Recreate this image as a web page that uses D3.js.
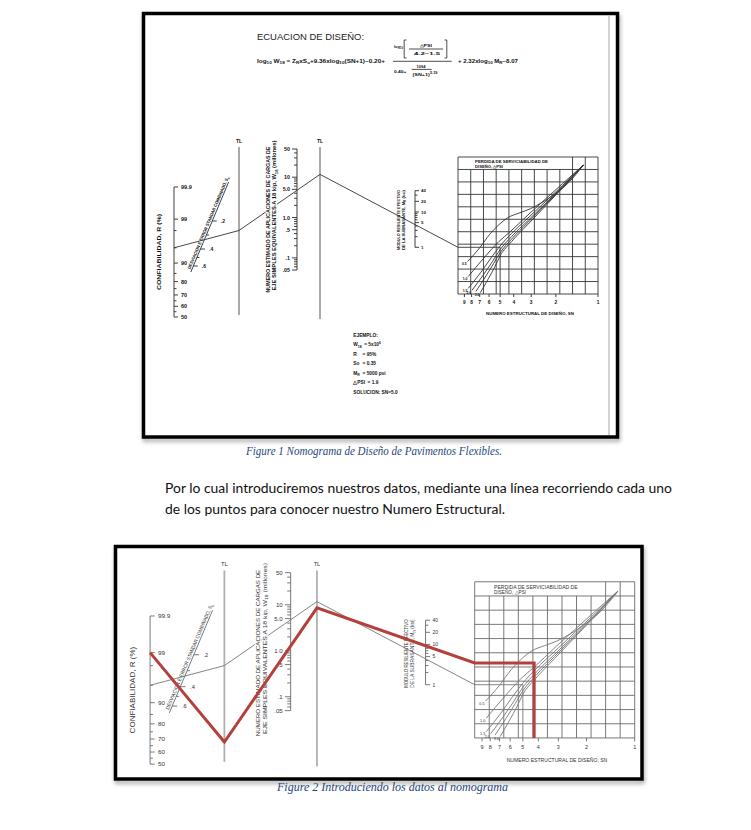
<!DOCTYPE html>
<html lang="es">
<head>
<meta charset="utf-8">
<title>Nomograma de diseño de pavimentos flexibles</title>
<script src="https://cdn.jsdelivr.net/npm/d3@7/dist/d3.min.js"></script>
<style>
  body { margin: 0; background: #fff; }
  svg { display: block; }
</style>
</head>
<body>
<div id="page"></div>
<script>
const confiabilidadTicks = [99.9, 99, 90, 80, 70, 60, 50];
const confiabilidadMenores = [98, 95, 85, 75, 65, 55];
const soTicks = [0.2, 0.4, 0.6];
const soMenores = [0.3, 0.5];
const w18Ticks = [50, 10, 5, 1, 0.5, 0.1, 0.05];
const w18Etiquetas = ['50', '10', '5.0', '1.0', '.5', '.1', '.05'];
const mrTicks = [40, 20, 10, 5, 1];
const snTicks = [9, 8, 7, 6, 5, 4, 3, 2, 1];

// curvas de perdida de serviciabilidad, en unidades de cuadricula [columna, fila]
const curvaPsi05 = [[0.75, 2.6], [1.7, 3.7], [2.5, 4.8], [3.2, 5.55], [3.9, 6.12], [4.8, 6.5], [5.7, 6.85], [6.6, 7.35], [7.5, 7.95], [8.7, 8.95], [9.85, 10.35]];
const curvaPsi10 = [[0.8, 1.4], [2.0, 2.85], [3.2, 4.2], [4.1, 5.0], [5.5, 6.35], [6.9, 7.65], [8.2, 8.85], [9.85, 10.35]];
const curvaPsi15 = [[0.8, 0.45], [1.8, 1.75], [2.6, 2.9], [3.3, 3.85], [4.2, 4.85], [5.5, 6.1], [6.9, 7.45], [8.2, 8.7], [9.85, 10.35]];
const curvaPsi20 = [[1.1, 0.3], [2.0, 1.55], [2.7, 2.6], [3.3, 3.55], [4.2, 4.6], [5.5, 5.9], [6.9, 7.3], [8.2, 8.6], [9.85, 10.35]];
const curvaPsi25 = [[1.4, 0.2], [2.2, 1.45], [2.8, 2.45], [3.3, 3.3], [4.2, 4.4], [5.5, 5.75], [6.9, 7.2], [8.2, 8.55], [9.85, 10.35]];
const curvaPsi30 = [[1.75, 0.1], [2.4, 1.25], [2.9, 2.2], [3.3, 3.05], [4.2, 4.2], [5.5, 5.6], [6.9, 7.1], [8.2, 8.5], [9.85, 10.35]];
const curvasPsi = [
  { etiqueta: '0.5', puntos: curvaPsi05 },
  { etiqueta: '1.0', puntos: curvaPsi10 },
  { etiqueta: '1.5', puntos: curvaPsi15 },
  { etiqueta: '2.0', puntos: curvaPsi20 },
  { etiqueta: null, puntos: curvaPsi25 },
  { etiqueta: '3.0', puntos: curvaPsi30 }
];

// recorridos: R (%), lineas de giro TL (% de su altura), fila de entrada, SN
const ejemploR = 95, ejemploTL = [50.3, 83.7], ejemploFila = 3.75, ejemploSN = 5.0;
const nuestroR = 99, nuestroTL = [10.4, 80.4], nuestroFila = 5.28, nuestroSN = 4.25;

const ejemploTexto = [['EJEMPLO:', ''], ['W18', '= 5x10^6'], ['R', '= 95%'], ['So', '= 0.35'], ['MR', '= 5000 psi'], ['\u25B3PSI', '= 1.9'], ['SOLUCION: SN=5.0', '']];

// ---- escalas del nomograma (marco base = figura 1) ----
function probit(p) {
  const a = [-39.69683028665376, 220.9460984245205, -275.9285104469687, 138.3577518672690, -30.66479806614716, 2.506628277459239];
  const b = [-54.47609879822406, 161.5858368580409, -155.6989798598866, 66.80131188771972, -13.28068155288572];
  const c = [-0.007784894002430293, -0.3223964580411365, -2.400758277161838, -2.549732539343734, 4.374664141464968, 2.938163982698783];
  const d = [0.007784695709041462, 0.3224671290700398, 2.445134137142996, 3.754408661907416];
  const pl = 0.02425;
  let q, r;
  if (p < pl) {
    q = Math.sqrt(-2 * Math.log(p));
    return (((((c[0] * q + c[1]) * q + c[2]) * q + c[3]) * q + c[4]) * q + c[5]) / ((((d[0] * q + d[1]) * q + d[2]) * q + d[3]) * q + 1);
  }
  if (p > 1 - pl) {
    q = Math.sqrt(-2 * Math.log(1 - p));
    return -(((((c[0] * q + c[1]) * q + c[2]) * q + c[3]) * q + c[4]) * q + c[5]) / ((((d[0] * q + d[1]) * q + d[2]) * q + d[3]) * q + 1);
  }
  q = p - 0.5; r = q * q;
  return (((((a[0] * r + a[1]) * r + a[2]) * r + a[3]) * r + a[4]) * r + a[5]) * q / (((((b[0] * r + b[1]) * r + b[2]) * r + b[3]) * r + b[4]) * r + 1);
}

const X_R = 174, X_TL1 = 239, X_W18 = 297, X_TL2 = 320, X_MR = 415;
const zScale = d3.scaleLinear().domain([0, 3.09]).range([317, 187]);
const yConf = p => zScale(probit(p / 100));
const ySo = d3.scaleLinear().domain([0.2, 0.4, 0.6]).range([221, 249, 266]);
const soX = y => 211 + (224 - y) * 0.42;
const yW18 = d3.scaleLog().domain([0.05, 50]).range([270, 149]);
const yMR = d3.scaleLog().domain([1, 40]).range([247.3, 190.7]);
const yTL = d3.scaleLinear().domain([0, 100]).range([315, 147]);
const gx = d3.scaleLinear().domain([0, 11]).range([458, 598]);
const gy = d3.scaleLinear().domain([0, 11]).range([294, 157]);
const xSN = d3.scaleLog().domain([10, 1]).range([458, 598]);

const svg = d3.select('#page').append('svg')
  .attr('width', 751).attr('height', 830)
  .style('font-family', "'Liberation Sans', Arial, sans-serif");

const defs = svg.append('defs');
defs.append('filter').attr('id', 'sombra')
  .attr('x', '-5%').attr('y', '-5%').attr('width', '110%').attr('height', '115%')
  .append('feGaussianBlur').attr('stdDeviation', 2);

function texto(g, segs, o) {
  const t = g.append('text')
    .attr('font-size', o.fs)
    .attr('fill', o.fill || '#222')
    .attr('text-anchor', o.anchor || 'start');
  if (o.rot) t.attr('transform', `translate(${o.x},${o.y}) rotate(${o.rot})`);
  else t.attr('x', o.x).attr('y', o.y);
  if (o.len) t.attr('textLength', o.len).attr('lengthAdjust', 'spacingAndGlyphs');
  if (o.weight) t.attr('font-weight', o.weight);
  if (o.italic) t.attr('font-style', 'italic');
  if (o.family) t.style('font-family', o.family);
  if (o.halo) t.attr('stroke', '#fff').attr('stroke-width', o.halo).attr('paint-order', 'stroke');
  let nivel = 0;
  [].concat(segs).forEach(s => {
    const [str, tipo] = Array.isArray(s) ? s : [s, null];
    const objetivo = tipo === 'sub' ? 0.3 * o.fs : tipo === 'sup' ? -0.45 * o.fs : 0;
    const ts = t.append('tspan').text(str);
    if (objetivo !== nivel) ts.attr('dy', objetivo - nivel);
    if (tipo) ts.attr('font-size', o.fs * 0.72);
    nivel = objetivo;
  });
  return t;
}

function marco(x, y, w, h) {
  svg.append('rect').attr('x', x + 1).attr('y', y + 3).attr('width', w).attr('height', h)
    .attr('fill', 'none').attr('stroke', '#999').attr('stroke-width', 3).attr('filter', 'url(#sombra)');
  svg.append('rect').attr('x', x).attr('y', y).attr('width', w).attr('height', h)
    .attr('fill', '#fff').attr('stroke', '#000').attr('stroke-width', 3.5);
}

function recorrido(r, tl, fila, sn) {
  return [
    [X_R, yConf(r)],
    [X_TL1, yTL(tl[0])],
    [X_TL2, yTL(tl[1])],
    [gx(0), gy(fila)],
    [xSN(sn), gy(fila)],
    [xSN(sn), gy(0)]
  ];
}

function dibujarNomograma(g, est) {
  const ln = sel => sel.attr('stroke', est.trazo).attr('stroke-width', est.ancho)
    .attr('vector-effect', 'non-scaling-stroke').attr('fill', 'none');
  const seg = (x1, y1, x2, y2) => ln(g.append('line').attr('x1', x1).attr('y1', y1).attr('x2', x2).attr('y2', y2));
  const txt = (segs, o) => texto(g, segs, Object.assign({ fill: est.tinta, weight: est.peso }, o));

  // confiabilidad R
  seg(X_R, yConf(99.9), X_R, yConf(50));
  confiabilidadTicks.forEach(v => {
    seg(X_R, yConf(v), X_R + 4, yConf(v));
    txt(String(v), { x: X_R + 7, y: yConf(v) + 2, fs: 5.5 });
  });
  confiabilidadMenores.forEach(v => seg(X_R, yConf(v), X_R + 2.5, yConf(v)));
  txt('CONFIABILIDAD, R (%)', { x: 161, y: 252, rot: -90, fs: 5.5, anchor: 'middle', len: 76 });

  // desviacion estandar So
  seg(soX(272), 272, soX(182), 182);
  soTicks.forEach(v => {
    const y = ySo(v);
    seg(soX(y), y, soX(y) + 4.5, y);
    txt('.' + Math.round(v * 10), { x: soX(y) + 8.5, y: y + 2, fs: 5 });
  });
  soMenores.forEach(v => seg(soX(ySo(v)), ySo(v), soX(ySo(v)) + 2.5, ySo(v)));
  txt(['DESVIACION E ERROR STANDAR COMBINADO, S', ['o', 'sub']],
    { x: 209.6, y: 223.4, rot: -67.2, fs: 4.4, anchor: 'middle', len: 100 });

  // lineas de giro
  [X_TL1, X_TL2].forEach((x, i) => {
    ln(g.append('line').attr('x1', x).attr('x2', x).attr('y1', yTL(100)).attr('y2', yTL(i ? -2.4 : 0)))
      .attr('stroke', est.tl).attr('stroke-width', est.tlAncho);
    txt('TL', { x: x, y: 143, fs: 5, anchor: 'middle' });
  });

  // recorrido del ejemplo (linea fina)
  const linea = d3.line();
  ln(g.append('path').attr('d', linea(recorrido(ejemploR, ejemploTL, ejemploFila, ejemploSN))))
    .attr('stroke', est.guia);

  // W18
  seg(X_W18, yW18(50), X_W18, yW18(0.05));
  yW18.ticks().filter(v => !w18Ticks.some(m => Math.abs(m - v) < 1e-9))
    .forEach(v => seg(X_W18 - 3, yW18(v), X_W18, yW18(v)));
  w18Ticks.forEach((v, i) => {
    seg(X_W18 - 5, yW18(v), X_W18, yW18(v));
    txt(w18Etiquetas[i], { x: X_W18 - 7, y: yW18(v) + 2, fs: 5.3, anchor: 'end' });
  });
  txt('NUMERO ESTIMADO DE APLICACIONES DE CARGAS DE',
    { x: 270, y: 219.5, rot: -90, fs: 5.2, anchor: 'middle', len: 146, halo: 1.6 });
  txt(['EJE SIMPLES EQUIVALENTES A 18 kip, W', ['18', 'sub'], ' (millones)'],
    { x: 276, y: 215.5, rot: -90, fs: 5.2, anchor: 'middle', len: 150, halo: 1.6 });

  // modulo resiliente MR
  seg(X_MR, yMR(40), X_MR, yMR(1));
  yMR.ticks().filter(v => !mrTicks.includes(v)).forEach(v => seg(X_MR, yMR(v), X_MR + 2.5, yMR(v)));
  mrTicks.forEach(v => {
    seg(X_MR, yMR(v), X_MR + 4, yMR(v));
    txt(String(v), { x: X_MR + 6, y: yMR(v) + 1.6, fs: 4.4 });
  });
  txt('MODULO RESILIENTE EFECTIVO', { x: 400, y: 220, rot: -90, fs: 4.2, anchor: 'middle', len: 60 });
  txt(['DE LA SUBRASANTE, M', ['R', 'sub'], ' (ksi)'], { x: 405, y: 220, rot: -90, fs: 4.2, anchor: 'middle', len: 60 });

  // cuadricula
  ln(g.append('rect').attr('x', gx(0)).attr('y', gy(11)).attr('width', gx(11) - gx(0)).attr('height', gy(0) - gy(11)))
    .attr('stroke', est.rejilla);
  d3.range(1, 11).forEach(c => {
    seg(gx(c), gy(0), gx(c), gy(c >= 9 ? 11 : 10)).attr('stroke', est.rejilla);
    seg(gx(0), gy(c), gx(11), gy(c)).attr('stroke', est.rejilla);
  });
  txt('PERDIDA DE SERVICIABILIDAD DE', { x: 475, y: 163, fs: 4, len: 73 });
  txt('DISE\u00D1O, \u25B3PSI', { x: 475, y: 167.6, fs: 4, len: 28 });

  const curva = d3.line().x(d => gx(d[0])).y(d => gy(d[1])).curve(d3.curveMonotoneX);
  curvasPsi.forEach(c => {
    ln(g.append('path').attr('d', curva(c.puntos))).attr('stroke', est.curva);
    if (c.etiqueta) {
      const [cx, cy] = c.puntos[0];
      txt(c.etiqueta, { x: gx(cx) - 0.8, y: gy(cy) + 3.4, fs: 3.4, anchor: 'end' });
    }
  });

  // eje SN
  snTicks.forEach(v => {
    seg(xSN(v), gy(0), xSN(v), gy(0) + 3);
    txt(String(v), { x: xSN(v), y: 304, fs: 4.8, anchor: 'middle' });
  });
  txt('NUMERO ESTRUCTURAL DE DISE\u00D1O, SN', { x: 530, y: 315, fs: 4.2, anchor: 'middle', len: 88 });
}

// ---- figura 1 ----
marco(143.5, 13.5, 474, 423.5);
svg.append('line').attr('x1', 609).attr('x2', 609).attr('y1', 16).attr('y2', 435)
  .attr('stroke', '#c4c4c4').attr('stroke-width', 1.5);

const fig1 = svg.append('g');
dibujarNomograma(fig1, {
  trazo: '#2b2b2b', ancho: 0.9, tl: '#555', tlAncho: 1, guia: '#333',
  rejilla: '#333', curva: '#333', tinta: '#111', peso: 'bold'
});

// ecuacion de diseno
const eq = { fill: '#111', weight: 'bold' };
texto(fig1, 'ECUACION DE DISE\u00D1O:', { x: 257, y: 39.5, fs: 9, len: 107, weight: 'normal', fill: '#222' });
texto(fig1, ['log', ['10', 'sub'], ' W', ['18', 'sub'], ' = Z', ['R', 'sub'], 'xS', ['o', 'sub'], '+9.36xlog', ['10', 'sub'], '(SN+1)\u22120.20+'],
  Object.assign({ x: 257, y: 62.5, fs: 4.8, len: 128 }, eq));
texto(fig1, ['log', ['10', 'sub']], Object.assign({ x: 394, y: 47.5, fs: 4.3, len: 9 }, eq));
texto(fig1, '\u25B3PSI', Object.assign({ x: 426, y: 46.5, fs: 4.3, anchor: 'middle', len: 12 }, eq));
texto(fig1, '4.2\u22121.5', Object.assign({ x: 427, y: 55.2, fs: 4.3, anchor: 'middle', len: 26 }, eq));
texto(fig1, '0.40+', Object.assign({ x: 394, y: 73, fs: 4.3, len: 12.5 }, eq));
texto(fig1, '1094', Object.assign({ x: 421, y: 67.6, fs: 3.8, anchor: 'middle', len: 9 }, eq));
texto(fig1, ['(SN+1)', ['5.19', 'sup']], Object.assign({ x: 412.5, y: 76.2, fs: 4.3, len: 25 }, eq));
texto(fig1, ['+  2.32xlog', ['10', 'sub'], ' M', ['R', 'sub'], '\u22128.07'], Object.assign({ x: 458, y: 62.5, fs: 4.8, len: 60 }, eq));
const barra = d3.path();
barra.moveTo(393, 61.3); barra.lineTo(451.7, 61.3);
barra.moveTo(409, 49); barra.lineTo(443, 49);
barra.moveTo(411.7, 69.4); barra.lineTo(431.7, 69.4);
barra.moveTo(406.5, 40); barra.lineTo(404.2, 40); barra.lineTo(404.2, 58); barra.lineTo(406.5, 58);
barra.moveTo(444.5, 40); barra.lineTo(446.8, 40); barra.lineTo(446.8, 58); barra.lineTo(444.5, 58);
fig1.append('path').attr('d', barra.toString()).attr('fill', 'none').attr('stroke', '#222').attr('stroke-width', 0.8);

// ejemplo
ejemploTexto.forEach((d, i) => {
  const y = 337 + i * 9.45;
  const etiqueta = d[0] === 'W18' ? ['W', ['18', 'sub']] : d[0] === 'MR' ? ['M', ['R', 'sub']] : d[0];
  const t = texto(fig1, etiqueta, { x: 353.3, y: y, fs: 4.8, fill: '#111', weight: 'bold' });
  if (d[1]) {
    const fin = 353.3 + t.node().getComputedTextLength() + 2.5;
    const valor = d[1].includes('^') ? [d[1].split('^')[0], [d[1].split('^')[1], 'sup']] : d[1];
    texto(fig1, valor, { x: Math.max(362.5, fin), y: y, fs: 4.8, fill: '#111', weight: 'bold' });
  }
});

svg.append('text').attr('x', 374).attr('y', 455).attr('text-anchor', 'middle')
  .attr('font-size', 11.5).attr('font-style', 'italic').attr('fill', '#26477c')
  .attr('textLength', 256).attr('lengthAdjust', 'spacingAndGlyphs')
  .style('font-family', "'Liberation Serif', 'DejaVu Serif', serif")
  .text('Figure 1 Nomograma de Dise\u00F1o de Pavimentos Flexibles.');

// ---- parrafo ----
const parrafo = ['Por lo cual introduciremos nuestros datos, mediante una l\u00EDnea recorriendo cada uno',
  'de los puntos para conocer nuestro Numero Estructural.'];
const largos = [507, 340];
parrafo.forEach((l, i) => {
  svg.append('text').attr('x', 165).attr('y', 493 + i * 21).attr('font-size', 12.5).attr('fill', '#111')
    .attr('textLength', largos[i]).attr('lengthAdjust', 'spacingAndGlyphs')
    .style('font-family', "Lato, 'Open Sans', sans-serif").text(l);
});

// ---- figura 2 ----
marco(115.5, 546.5, 526.5, 232.5);
const fig2 = svg.append('g').attr('transform', 'translate(-48.8,402.8) scale(1.143,1.14)');
dibujarNomograma(fig2, {
  trazo: '#6a6a6a', ancho: 0.9, tl: '#b0b0b0', tlAncho: 1.8, guia: '#777',
  rejilla: '#6a6a6a', curva: '#777', tinta: '#333', peso: 'normal'
});
fig2.append('path')
  .attr('d', d3.line()(recorrido(nuestroR, nuestroTL, nuestroFila, nuestroSN)))
  .attr('fill', 'none').attr('stroke', '#b5403b').attr('stroke-width', 3)
  .attr('stroke-linejoin', 'miter').attr('vector-effect', 'non-scaling-stroke');

svg.append('text').attr('x', 392.5).attr('y', 791).attr('text-anchor', 'middle')
  .attr('font-size', 12).attr('font-style', 'italic').attr('fill', '#26477c')
  .attr('textLength', 231).attr('lengthAdjust', 'spacingAndGlyphs')
  .style('font-family', "'Liberation Serif', 'DejaVu Serif', serif")
  .text('Figure 2 Introduciendo los datos al nomograma');
</script>
</body>
</html>
